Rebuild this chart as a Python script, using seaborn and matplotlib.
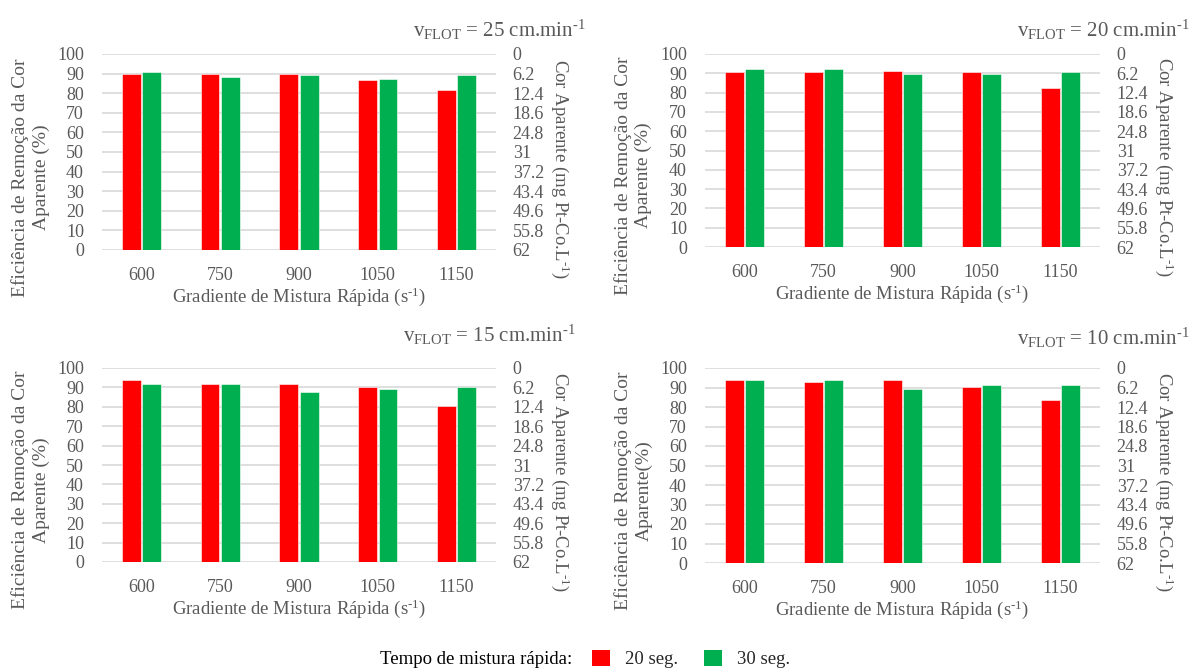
import matplotlib
matplotlib.use("Agg")
import matplotlib.pyplot as plt
from matplotlib.patches import Patch
import numpy as np
import pandas as pd
import seaborn as sns

# Rapid-mixing gradients (s^-1) and removal efficiencies (%) per flotation rate
gradientes = ["600", "750", "900", "1050", "1150"]
tempos = ["20 seg.", "30 seg."]
velocidades = [25, 20, 15, 10]

ef_25_20s = [90.0, 90.0, 90.0, 86.7, 81.8]
ef_25_30s = [90.8, 88.3, 89.1, 87.4, 89.1]
ef_20_20s = [90.7, 90.7, 91.3, 90.7, 82.4]
ef_20_30s = [92.2, 92.2, 89.8, 89.8, 90.7]
ef_15_20s = [93.6, 91.9, 91.9, 90.3, 80.5]
ef_15_30s = [91.9, 91.9, 87.8, 89.3, 90.3]
ef_10_20s = [93.7, 92.8, 93.7, 90.4, 83.8]
ef_10_30s = [93.7, 93.7, 89.4, 91.3, 91.3]

cor_ticks = [0, 6.2, 12.4, 18.6, 24.8, 31, 37.2, 43.4, 49.6, 55.8, 62]

series = {
    25: (ef_25_20s, ef_25_30s),
    20: (ef_20_20s, ef_20_30s),
    15: (ef_15_20s, ef_15_30s),
    10: (ef_10_20s, ef_10_30s),
}

sns.set_theme(style="white")
plt.rcParams["font.family"] = ["Liberation Serif", "DejaVu Serif"]
plt.rcParams["mathtext.fontset"] = "custom"
plt.rcParams["mathtext.rm"] = "Liberation Serif"
plt.rcParams["mathtext.it"] = "Liberation Serif:italic"
plt.rcParams["mathtext.default"] = "regular"

GRAY = "#595959"
GRID = "#D9D9D9"
palette = {"20 seg.": "#FF0000", "30 seg.": "#00B050"}
SUP = r"$^{\text{-1}}$"

W, H = 1192, 668
fig = plt.figure(figsize=(W / 100, H / 100), dpi=100)

# axes boxes in pixels: left, top, right, bottom
boxes = {
    25: (102, 54, 496, 250),
    20: (705, 54, 1100, 247),
    15: (102, 368, 496, 562),
    10: (705, 368, 1100, 563),
}
title_right = {25: 586, 20: 1190, 15: 576, 10: 1190}
title_y = {25: 30, 20: 30, 15: 335, 10: 338}
left_labels = {
    25: "Eficiência de Remoção da Cor\nAparente (%)",
    20: "Eficiência de Remoção da Cor\nAparente (%)",
    15: "Eficiência de Remoção da Cor\nAparente (%)",
    10: "Eficiência de Remoção da Cor\nAparente(%)",
}

for v in velocidades:
    l, t, r, b = boxes[v]
    ax = fig.add_axes([l / W, 1 - b / H, (r - l) / W, (b - t) / H])
    s20, s30 = series[v]
    df = pd.DataFrame({
        "Gradiente": gradientes * 2,
        "Tempo": [tempos[0]] * 5 + [tempos[1]] * 5,
        "Eficiencia": s20 + s30,
    })
    sns.barplot(data=df, x="Gradiente", y="Eficiencia", hue="Tempo",
                order=gradientes, hue_order=tempos, palette=palette,
                width=0.52, gap=0.08, saturation=1, legend=False,
                edgecolor="white", linewidth=0.4, ax=ax)
    ax.set_ylim(0, 100)
    ax.set_yticks(np.arange(0, 101, 10))
    ax.set_xlim(-0.5, 4.5)
    ax.yaxis.grid(True, color=GRID, linewidth=1.2)
    ax.set_axisbelow(True)
    for sp in ax.spines.values():
        sp.set_visible(False)
    ax.tick_params(axis="y", length=0, colors=GRAY, labelsize=13, pad=13)
    ax.tick_params(axis="x", length=0, colors=GRAY, labelsize=13, pad=12)
    ax.set_xlabel("Gradiente de Mistura Rápida (s" + SUP + ")", color=GRAY,
                  fontsize=13.5, labelpad=1)
    ax.set_ylabel(left_labels[v], color=GRAY, fontsize=14, va="center",
                  linespacing=1.25)
    ax.yaxis.set_label_coords(-0.182, 0.37)

    ax2 = ax.twinx()
    ax2.set_ylim(62, 0)
    ax2.set_yticks(cor_ticks)
    ax2.set_yticklabels([f"{c:g}" for c in cor_ticks])
    for sp in ax2.spines.values():
        sp.set_visible(False)
    ax2.tick_params(axis="y", length=0, colors=GRAY, labelsize=13, pad=12)
    ax2.set_ylabel("Cor Aparente (mg Pt-Co.L" + SUP + ")", color=GRAY,
                   fontsize=13.5, rotation=270, va="center")
    ax2.yaxis.set_label_coords(1.163, 0.415)

    fig.text(title_right[v] / W, 1 - title_y[v] / H,
             "v$_{FLOT}$ = " + f"{v} cm.min" + SUP,
             ha="right", va="center", fontsize=15, color=GRAY)

# shared legend along the bottom
fig.text(572 / W, 1 - 659 / H, "Tempo de mistura rápida:", ha="right",
         va="center", fontsize=13.5, color="black")
handles = [Patch(facecolor=palette[t], edgecolor="none", label=t) for t in tempos]
fig.legend(handles=handles, loc="center left", ncol=2, frameon=False,
           bbox_to_anchor=(584 / W, 1 - 659 / H), fontsize=13.5,
           handlelength=1.0, handleheight=1.0, handletextpad=0.8,
           columnspacing=1.35, borderaxespad=0)

fig.savefig("out.png", dpi=100)
